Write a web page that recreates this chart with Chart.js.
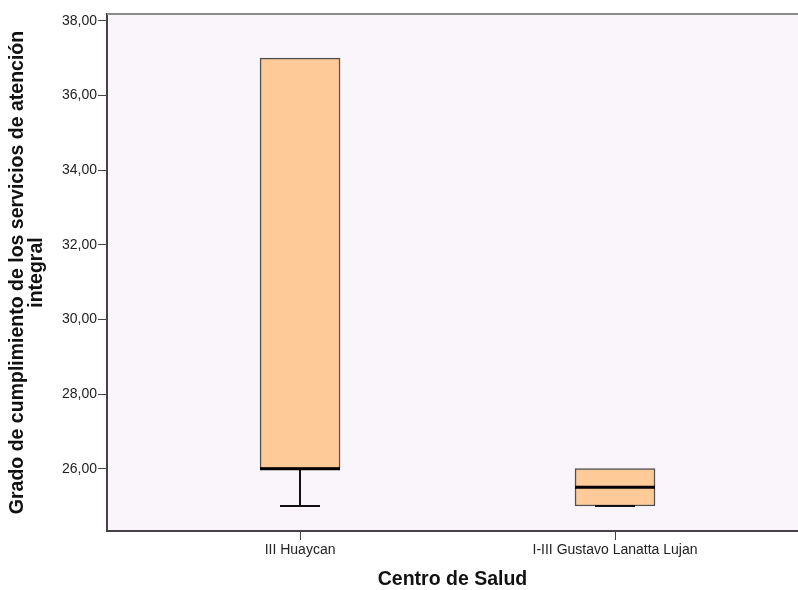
<!DOCTYPE html>
<html>
<head>
<meta charset="utf-8">
<script src="https://cdn.jsdelivr.net/npm/chart.js@4/dist/chart.umd.min.js"></script>
<style>
  html, body { margin: 0; padding: 0; background: #fff; }
  #wrap { width: 798px; height: 590px; }
</style>
</head>
<body>
<div id="wrap"><canvas id="box"></canvas></div>
<script>
// Centros de salud y resumen de cinco números de cada caja
const categorias = ['III Huaycan', 'I-III Gustavo Lanatta Lujan'];
const bigoteInf = [25, 25];
const cuartil1 = [26, 25];
const mediana = [26, 25.5];
const cuartil3 = [37, 26];
const bigoteSup = [37, 26];
const yTicks = [26, 28, 30, 32, 34, 36, 38];

const fmt = (v) => v.toFixed(2).replace('.', ',');

// fondo del área y borde superior gris
const marco = {
  id: 'marco',
  beforeDraw(chart) {
    const { ctx, chartArea: a } = chart;
    ctx.save();
    ctx.fillStyle = '#f9f5fb';
    ctx.fillRect(a.left, a.top, a.right - a.left, a.bottom - a.top);
    ctx.restore();
  },
  afterDraw(chart) {
    const { ctx, chartArea: a } = chart;
    ctx.save();
    ctx.strokeStyle = '#8a8a8a';
    ctx.lineWidth = 2;
    ctx.beginPath();
    ctx.moveTo(a.left, a.top);
    ctx.lineTo(a.right, a.top);
    ctx.stroke();
    ctx.restore();
  },
};

// bigotes y medianas encima de las cajas
const bigotes = {
  id: 'bigotes',
  afterDatasetsDraw(chart) {
    const { ctx } = chart;
    const xs = chart.scales.x, ys = chart.scales.y;
    const half = 40, cap = 20;
    ctx.save();
    categorias.forEach((c, i) => {
      const x = Math.round(xs.getPixelForValue(i + 1));
      ctx.strokeStyle = '#111';
      ctx.lineWidth = 2;
      if (bigoteInf[i] < cuartil1[i]) {
        ctx.beginPath();
        ctx.moveTo(x, ys.getPixelForValue(cuartil1[i]));
        ctx.lineTo(x, ys.getPixelForValue(bigoteInf[i]));
        ctx.stroke();
      }
      ctx.beginPath();
      ctx.moveTo(x - cap, ys.getPixelForValue(bigoteInf[i]));
      ctx.lineTo(x + cap, ys.getPixelForValue(bigoteInf[i]));
      ctx.stroke();
      if (bigoteSup[i] > cuartil3[i]) {
        ctx.beginPath();
        ctx.moveTo(x, ys.getPixelForValue(cuartil3[i]));
        ctx.lineTo(x, ys.getPixelForValue(bigoteSup[i]));
        ctx.moveTo(x - cap, ys.getPixelForValue(bigoteSup[i]));
        ctx.lineTo(x + cap, ys.getPixelForValue(bigoteSup[i]));
        ctx.stroke();
      }
      ctx.strokeStyle = '#000';
      ctx.lineWidth = 3;
      ctx.beginPath();
      ctx.moveTo(x - half, ys.getPixelForValue(mediana[i]));
      ctx.lineTo(x + half, ys.getPixelForValue(mediana[i]));
      ctx.stroke();
    });
    ctx.restore();
  },
};

const tickFont = { family: 'Liberation Sans', size: 14 };
const titleFont = { family: 'Liberation Sans', size: 19.5, weight: 'bold', lineHeight: 0.97 };

new Chart(document.getElementById('box'), {
  type: 'bar',
  data: {
    datasets: [{
      data: categorias.map((c, i) => ({ x: i + 1, y: [cuartil1[i], cuartil3[i]] })),
      backgroundColor: '#fecb98',
      borderColor: '#505050',
      borderWidth: 1.5,
      borderSkipped: false,
      barThickness: 80,
    }],
  },
  options: {
    responsive: true,
    maintainAspectRatio: false,
    animation: false,
    layout: { padding: { top: 14, left: 0, right: 0, bottom: 0 } },
    plugins: { legend: { display: false }, tooltip: { enabled: false } },
    scales: {
      x: {
        type: 'linear',
        offset: false,
        min: 0.387,
        max: 2.581,
        afterBuildTicks: (s) => { s.ticks = categorias.map((c, i) => ({ value: i + 1 })); },
        afterFit: (s) => { s.height = 59; },
        ticks: {
          color: '#222', font: tickFont, padding: 2, maxRotation: 0,
          callback: (v) => categorias[v - 1],
        },
        grid: { offset: false, drawOnChartArea: false, tickLength: 9, color: '#444', tickWidth: 1 },
        border: { display: true, color: '#444', width: 2 },
        title: {
          display: true, text: 'Centro de Salud', color: '#111', font: titleFont,
          padding: { top: 0, bottom: 0.5 },
        },
      },
      y: {
        min: 24.33,
        max: 38.18,
        afterBuildTicks: (s) => { s.ticks = yTicks.map((v) => ({ value: v })); },
        afterFit: (s) => { s.width = 107; },
        ticks: { color: '#222', font: tickFont, padding: 1, callback: (v) => fmt(v) },
        grid: { drawOnChartArea: false, tickLength: 9, color: '#444', tickWidth: 1 },
        border: { display: true, color: '#444', width: 2 },
        title: {
          display: true,
          text: ['Grado de cumplimiento de los servicios de atención', 'integral'],
          color: '#111', font: titleFont,
          padding: { top: 8.5, bottom: 0 },
        },
      },
    },
  },
  plugins: [marco, bigotes],
});
</script>
</body>
</html>
